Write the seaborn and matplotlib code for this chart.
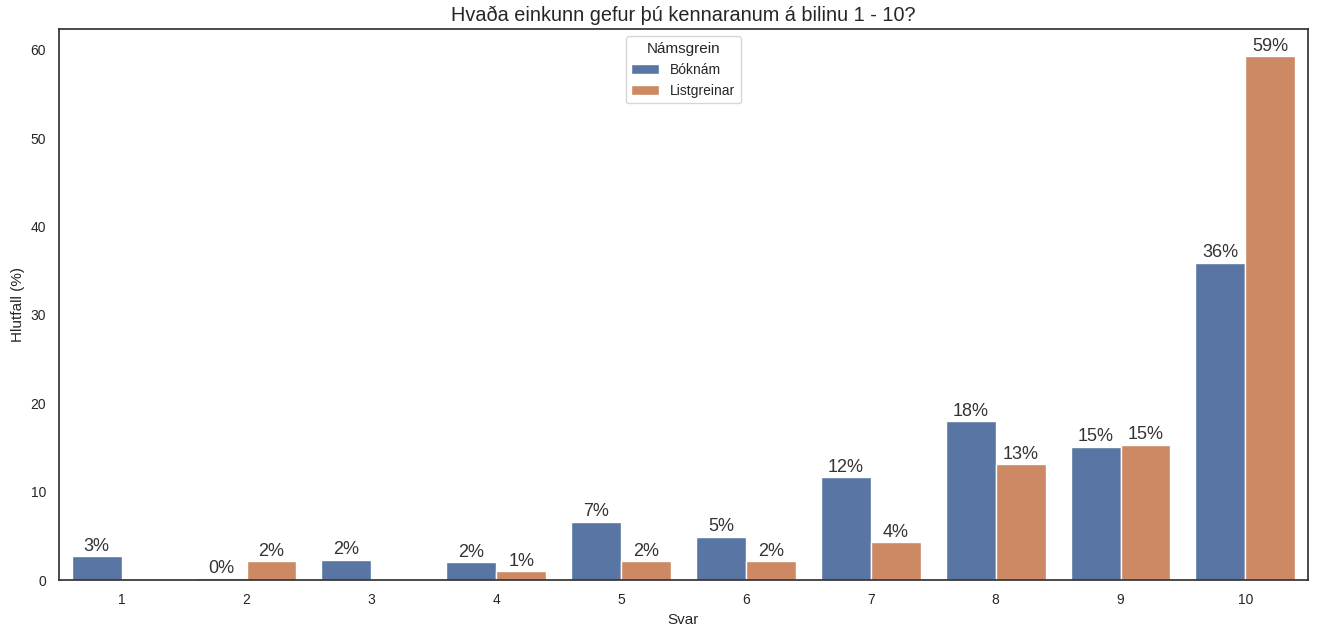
import numpy as np
import pandas as pd
import matplotlib
matplotlib.use("Agg")
import matplotlib.pyplot as plt
import seaborn as sns

categories = ["1", "2", "3", "4", "5", "6", "7", "8", "9", "10"]
boknam = [2.7, 0.2, 2.3, 2.0, 6.6, 4.9, 11.6, 18.0, 15.1, 35.9]
listgreinar = [np.nan, 2.1, np.nan, 1.0, 2.1, 2.1, 4.3, 13.1, 15.3, 59.3]
groups = ["Bóknám", "Listgreinar"]

df = pd.DataFrame({
    "Svar": categories * 2,
    "Hlutfall": boknam + listgreinar,
    "Námsgrein": [groups[0]] * len(categories) + [groups[1]] * len(categories),
})

sns.set_theme(style="white")
plt.rcParams['font.family'] = ['Liberation Sans', 'DejaVu Sans']

fig, ax = plt.subplots(figsize=(13.17, 6.25), dpi=100)
fig.subplots_adjust(left=0.045, right=0.993, top=0.953, bottom=0.072)

sns.barplot(data=df, x="Svar", y="Hlutfall", hue="Námsgrein", order=categories,
            hue_order=groups, ax=ax)

for cont in ax.containers:
    labels = []
    for v in cont.datavalues:
        labels.append("" if np.isnan(v) else f"{v:.0f}%")
    ax.bar_label(cont, labels=labels, fontsize=13, padding=1, color="#333333")

ax.set_title("Hvaða einkunn gefur þú kennaranum á bilinu 1 - 10?", fontsize=14.3)
ax.set_xlabel("Svar", fontsize=11)
ax.set_ylabel("Hlutfall (%)", fontsize=11)
ax.tick_params(labelsize=10)
for s in ax.spines.values():
    s.set_color("#333333")
leg = ax.legend(title="Námsgrein", loc="upper center", fontsize=10, title_fontsize=11)
ax.set_ylim(0, 62.3)

fig.savefig("out.png", dpi=100)
